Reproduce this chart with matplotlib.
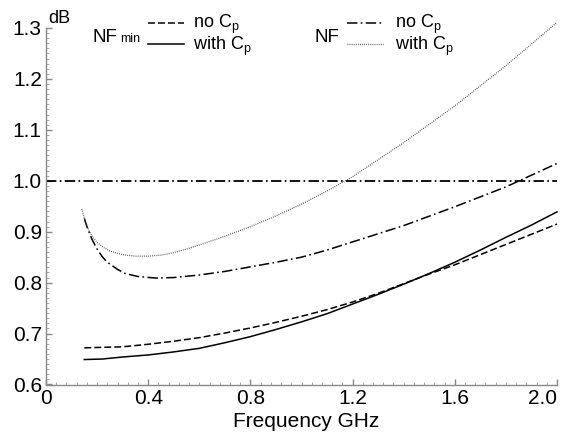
import matplotlib
matplotlib.use("Agg")
import matplotlib.pyplot as plt
from matplotlib.lines import Line2D
from matplotlib.ticker import MultipleLocator

plt.rcParams['font.family'] = ['Liberation Sans', 'DejaVu Sans']
plt.rcParams['mathtext.fontset'] = 'custom'
plt.rcParams['mathtext.rm'] = 'Liberation Sans'
plt.rcParams['mathtext.it'] = 'Liberation Sans'
plt.rcParams['lines.scale_dashes'] = False

# ---- data ----
nf_cp_f = [0.14, 0.155, 0.17, 0.185, 0.20, 0.225, 0.25, 0.30, 0.35, 0.40,
           0.45, 0.50, 0.55, 0.60, 0.70, 0.80, 0.90, 1.00, 1.10, 1.20,
           1.40, 1.60, 1.80, 2.00]
nf_cp = [0.945, 0.918, 0.900, 0.888, 0.879, 0.869, 0.862, 0.855, 0.852, 0.852,
         0.854, 0.859, 0.866, 0.874, 0.891, 0.910, 0.931, 0.954, 0.980, 1.008,
         1.075, 1.147, 1.226, 1.311]

nf_nocp_f = [0.15, 0.16, 0.18, 0.20, 0.22, 0.24, 0.28, 0.31, 0.36, 0.43,
             0.50, 0.60, 0.70, 0.80, 0.90, 1.00, 1.10, 1.20, 1.40, 1.60,
             1.80, 2.00]
nf_nocp = [0.926, 0.910, 0.885, 0.866, 0.851, 0.840, 0.826, 0.818, 0.812,
           0.809, 0.810, 0.815, 0.822, 0.831, 0.840, 0.850, 0.864, 0.880,
           0.912, 0.949, 0.988, 1.034]

nfmin_f = [0.15, 0.22, 0.30, 0.40, 0.50, 0.60, 0.70, 0.80, 0.90, 1.00, 1.10,
           1.20, 1.30, 1.40, 1.50, 1.60, 1.70, 1.80, 1.90, 2.00]
nfmin_nocp = [0.672, 0.673, 0.674, 0.679, 0.685, 0.692, 0.701, 0.711, 0.722,
              0.734, 0.747, 0.762, 0.779, 0.798, 0.817, 0.835, 0.855, 0.875,
              0.895, 0.915]
nfmin_cp = [0.649, 0.650, 0.654, 0.658, 0.664, 0.671, 0.682, 0.694, 0.708,
            0.723, 0.739, 0.758, 0.777, 0.797, 0.818, 0.840, 0.864, 0.889,
            0.913, 0.939]

ref_level = 1.0
xticks = [0, 0.4, 0.8, 1.2, 1.6, 2.0]
xticklabels = ["0", "0.4", "0.8", "1.2", "1.6", "2.0"]
yticks = [0.6, 0.7, 0.8, 0.9, 1.0, 1.1, 1.2, 1.3]
yticklabels = ["0.6", "0.7", "0.8", "0.9", "1.0", "1.1", "1.2", "1.3"]

W, H = 568, 432
fig = plt.figure(figsize=(W / 100, H / 100), dpi=100)
ax = fig.add_axes([46 / W, 1 - 384.5 / H, (557 - 46) / W, (384.5 - 28) / H])

DASH = (0, (5.0, 2.2))
DASHDOT = (0, (7.5, 2.4, 1.2, 2.4))
DOT = (0, (0.6, 0.9))
DOTCOL = '#444444'

ax.plot(nfmin_f, nfmin_nocp, color='black', lw=1.1, linestyle=DASH, clip_on=False)
ax.plot(nfmin_f, nfmin_cp, color='black', lw=1.1, linestyle='-', clip_on=False)
ax.plot(nf_nocp_f, nf_nocp, color='black', lw=1.1, linestyle=DASHDOT, clip_on=False)
ax.plot(nf_cp_f, nf_cp, color=DOTCOL, lw=0.9, linestyle=DOT, clip_on=False)
ax.axhline(ref_level, color='black', lw=1.3, linestyle=DASHDOT)

ax.set_xlim(0, 2.0)
ax.set_ylim(0.6, 1.3)
for s in ['top', 'right']:
    ax.spines[s].set_visible(False)
for s in ['left', 'bottom']:
    ax.spines[s].set_color('#888888')
    ax.spines[s].set_linewidth(1.0)

ax.set_xticks(xticks)
ax.set_xticklabels(xticklabels)
ax.set_yticks(yticks)
ax.set_yticklabels(yticklabels)
ax.xaxis.set_minor_locator(MultipleLocator(0.04))
ax.yaxis.set_minor_locator(MultipleLocator(0.01))
ax.tick_params(which='major', direction='in', length=4, width=1.0, color='#888888',
               labelsize=15, pad=3, labelcolor='black')
ax.tick_params(which='minor', direction='in', length=2, width=0.6, color='#999999')
ax.get_xticklabels()[-1].set_horizontalalignment('right')

def fx(x):
    return x / W

def fy(y):
    return 1 - y / H

# axis labels
fig.text(fx(306), fy(427), "Frequency GHz", fontsize=15, ha='center', va='baseline')
fig.text(fx(48), fy(23), "dB", fontsize=13, ha='left', va='baseline')

# legend-like annotation
fig.text(fx(93), fy(42), "NF", fontsize=13.5, ha='left', va='baseline')
fig.text(fx(120), fy(42), "min", fontsize=9, ha='left', va='baseline')
fig.add_artist(Line2D([fx(148), fx(184)], [fy(23), fy(23)], color='black', lw=1.1,
                      linestyle=DASH, transform=fig.transFigure))
fig.add_artist(Line2D([fx(148), fx(184)], [fy(44), fy(44)], color='black', lw=1.1,
                      linestyle='-', transform=fig.transFigure))
fig.text(fx(193), fy(28), r"no C$_\mathregular{p}$", fontsize=13, ha='left', va='baseline')
fig.text(fx(193), fy(50), r"with C$_\mathregular{p}$", fontsize=13, ha='left', va='baseline')

fig.text(fx(315), fy(42), "NF", fontsize=13.5, ha='left', va='baseline')
fig.add_artist(Line2D([fx(347), fx(383)], [fy(23), fy(23)], color='black', lw=1.1,
                      linestyle=DASHDOT, transform=fig.transFigure))
fig.add_artist(Line2D([fx(347), fx(383)], [fy(44), fy(44)], color=DOTCOL, lw=0.9,
                      linestyle=DOT, transform=fig.transFigure))
fig.text(fx(395), fy(28), r"no C$_\mathregular{p}$", fontsize=13, ha='left', va='baseline')
fig.text(fx(395), fy(50), r"with C$_\mathregular{p}$", fontsize=13, ha='left', va='baseline')

fig.savefig("out.png", dpi=100)
